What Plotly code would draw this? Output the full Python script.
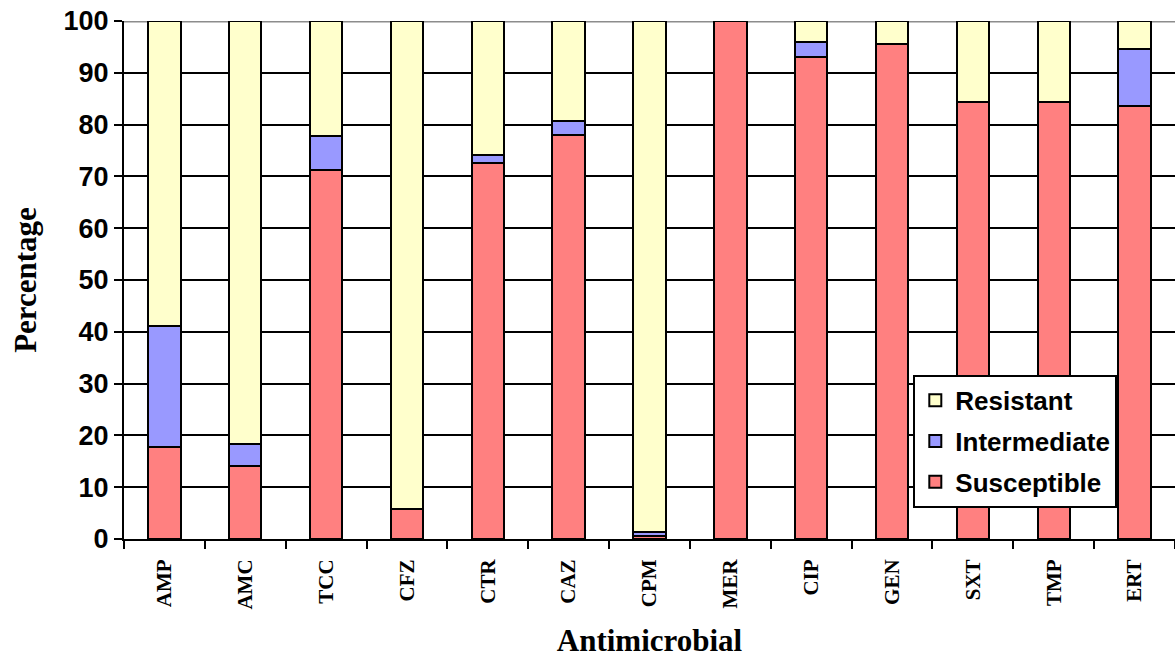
import plotly.graph_objects as go

# Antimicrobial susceptibility profile (% of isolates)
antimicrobials = ["AMP", "AMC", "TCC", "CFZ", "CTR", "CAZ", "CPM",
                  "MER", "CIP", "GEN", "SXT", "TMP", "ERT"]
susceptible = [17.7, 14.0, 71.2, 5.8, 72.6, 77.9, 0.5,
               100.0, 93.1, 95.5, 84.4, 84.4, 83.6]
intermediate = [23.4, 4.3, 6.6, 0.0, 1.5, 2.8, 0.8,
                0.0, 2.9, 0.0, 0.0, 0.0, 10.9]
resistant = [round(100 - s - i, 1) for s, i in zip(susceptible, intermediate)]

y_ticks = list(range(0, 101, 10))

# (name, values, colour, position in legend)
series = [
    ("Susceptible", susceptible, "#FF8080", 3),
    ("Intermediate", intermediate, "#9999FF", 2),
    ("Resistant", resistant, "#FFFFCC", 1),
]

fig = go.Figure()
for name, vals, color, rank in series:
    fig.add_trace(go.Bar(
        x=antimicrobials, y=vals, name=name, legendgroup=name, legendrank=rank,
        marker=dict(color=color, line=dict(color="black", width=2)),
    ))

fig.update_layout(
    barmode="stack",
    bargap=0.6,
    width=1175, height=659,
    margin=dict(l=124, r=0, t=21, b=120),
    plot_bgcolor="white", paper_bgcolor="white",
    showlegend=True,
    legend=dict(
        traceorder="grouped",
        tracegroupgap=4,
        x=0.751, y=0.317, xanchor="left", yanchor="top",
        bgcolor="white", bordercolor="black", borderwidth=2,
        itemwidth=30,
        font=dict(family="Liberation Sans", size=26, color="black", weight="bold"),
    ),
    xaxis=dict(
        type="category",
        tickson="boundaries",
        ticks="outside", ticklen=8, tickwidth=2, tickcolor="black",
        tickangle=-90,
        ticklabelstandoff=10,
        tickfont=dict(family="Liberation Serif", size=21, color="black", weight="bold"),
        showline=True, linecolor="black", linewidth=2,
        showgrid=False,
        title=dict(text="Antimicrobial", standoff=21,
                   font=dict(family="Liberation Serif", size=31, color="black", weight="bold")),
    ),
    yaxis=dict(
        range=[0, 100],
        tickvals=y_ticks,
        ticks="outside", ticklen=8, tickwidth=2, tickcolor="black",
        tickfont=dict(family="Liberation Sans", size=27, color="black", weight="bold"),
        showline=True, linecolor="black", linewidth=2,
        showgrid=True, gridcolor="black", gridwidth=2,
        zeroline=False,
        title=dict(text="Percentage", standoff=18,
                   font=dict(family="Liberation Serif", size=31, color="black", weight="bold")),
    ),
    shapes=[dict(type="line", xref="paper", yref="y", x0=0, x1=1, y0=100, y1=100,
                 line=dict(color="#8C8C8C", width=3), layer="between")],
)

fig.write_html("out.html")
